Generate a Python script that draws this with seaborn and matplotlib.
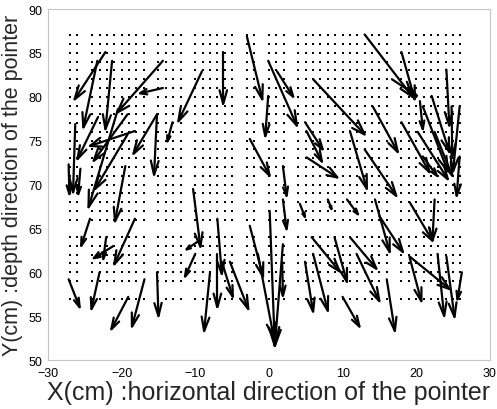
import numpy as np
import pandas as pd
import matplotlib
matplotlib.use("Agg")
import matplotlib.pyplot as plt
import seaborn as sns
from matplotlib.collections import LineCollection

# Measurement grid (cm); a few columns and rows were not sampled
grid_x = [c for c in range(-27, 27) if c not in (-25, -16, -11, -4, -1, 3, 17)]
grid_y = [r for r in range(57, 88) if r not in (58, 65)]

# Pointer displacement vectors: start point (cm) and components (cm)
vec_x = [-22.2, -23.3, -21.3, -14.4, -14.4, -9.1, -13.1, -15.2, -18.2, -15.2,
         -26.3, -27.2, -25.6, -23.2, -19.2, -20.5, -19.2, -19.5, -24.3, -18.2,
         -21.1, -22.1, -27.2, -23.0, -19.1, -16.9, -15.2,
         -6.2, -3.0, -10.3, -9.5, -10.0, -8.0, -7.0, -7.0, -6.4, -5.3, -2.6,
         0.1, 1.9, -1.5, 1.9, -2.6, 1.9, -0.1, -0.1, 1.1, 1.8, 4.2,
         6.0, 14.1, 13.0, 18.0, 16.7, 24.1, 18.0, 20.5, 22.1, 24.8, 25.9,
         4.9, 5.1, 5.1, 11.0, 13.0, 8.0, 10.6, 4.9, 6.0, 5.8, 8.9, 11.0, 11.9,
         10.0, 14.4, 15.0, 16.0, 19.1, 22.5, 19.1, 19.1, 22.9, 24.1, 26.2,
         20.9, 20.2, 22.5, 25.9, 20.9]
vec_y = [85.1, 84.1, 84.1, 84.1, 81.0, 82.9, 77.1, 78.0, 76.1, 78.0,
         76.9, 72.3, 71.8, 77.7, 78.0, 78.6, 75.7, 72.1, 66.1, 66.1,
         63.0, 64.0, 59.2, 60.0, 57.2, 59.2, 60.0,
         85.1, 86.9, 69.5, 63.6, 62.1, 60.0, 62.1, 66.1, 61.2, 61.2, 65.3,
         67.0, 63.2, 62.1, 68.3, 75.2, 72.1, 80.1, 84.1, 82.9, 61.2, 67.8,
         82.0, 78.9, 87.1, 85.1, 82.0, 83.1, 77.1, 79.5, 80.1, 78.9, 73.2,
         77.1, 76.1, 73.1, 76.1, 74.0, 68.3, 68.3, 61.2, 62.1, 64.0, 64.0, 64.0, 62.1,
         57.2, 68.3, 66.4, 59.2, 68.0, 68.3, 61.8, 61.7, 62.1, 61.8, 60.0,
         78.9, 76.0, 76.0, 78.9, 73.2]
vec_u = [-4.2, -1.9, -0.9, -6.2, -3.1, -3.2, -0.7, -0.4, -6.1, -3.2,
         -0.3, 0.1, -0.3, -2.8, -4.6, -4.0, -4.4, -1.4, -1.2, -2.8,
         -2.7, -0.4, 1.5, -1.1, -2.3, -1.7, 0.2,
         0.0, 2.1, 1.0, -1.7, -1.4, -0.8, 0.0, 0.6, 1.5, 2.5, 1.8,
         0.7, -1.1, 2.2, 0.5, 2.7, 0.5, -0.4, 3.9, 2.2, 0.1, 0.7,
         7.0, 3.4, 6.5, 1.8, 3.4, 0.4, 3.8, 0.4, 2.4, 0.1, -0.4,
         2.4, 2.1, 4.2, 2.3, 4.3, 0.5, 1.5, 1.1, 2.0, 3.8, 1.7, 3.6, 3.1,
         2.3, 2.0, 3.2, 1.1, 3.1, -0.3, 5.4, 1.6, 0.9, 1.1, -0.6,
         3.4, 4.1, 2.4, -0.9, 1.9]
vec_v = [-5.4, -7.6, -7.8, -5.9, -0.6, -5.7, -2.2, -6.9, -1.7, -4.5,
         -7.8, -3.4, -2.9, -4.8, -5.3, -11.2, -6.2, -6.3, -3.1, -5.2,
         -1.4, -2.5, -3.2, -4.2, -3.7, -5.4, -5.0,
         -5.9, -7.2, -6.6, -1.0, -2.6, -6.7, -6.1, -6.3, -4.0, -5.4, -5.8,
         -15.4, -11.6, -9.7, -3.4, -4.2, -3.4, -4.6, -7.4, -2.9, -3.9, -1.5,
         -6.3, -5.2, -7.1, -5.4, -1.9, -6.4, -5.7, -3.2, -6.4, -5.7, -4.5,
         -3.1, -3.5, -2.3, -6.6, -5.3, -1.1, -1.7, -5.7, -6.5, -3.9, -5.1, -3.6, -5.4,
         -3.4, -6.0, -4.1, -5.9, -4.4, -4.7, -3.7, -5.0, -7.1, -6.9, -3.1,
         -7.4, -5.4, -5.0, -7.4, -2.2]

x_ticks = [-30, -20, -10, 0, 10, 20, 30]
y_ticks = [50, 55, 60, 65, 70, 75, 80, 85, 90]

sns.set_theme(style="white")
plt.rcParams["font.family"] = ["Liberation Sans", "DejaVu Sans"]

fig = plt.figure(figsize=(4.97, 4.10), dpi=100)
ax = fig.add_axes([0.0966, 0.1195, 0.889, 0.856])

# sampling points
gx, gy = np.meshgrid(grid_x, grid_y)
dots = pd.DataFrame({"x": gx.ravel(), "y": gy.ravel()})
sns.scatterplot(data=dots, x="x", y="y", s=3, color="black", marker="s",
                linewidth=0, ax=ax, legend=False, zorder=1)

# quiver-style arrows with open V heads
x = np.asarray(vec_x, float)
y = np.asarray(vec_y, float)
u = np.asarray(vec_u, float)
v = np.asarray(vec_v, float)
length = np.hypot(u, v)
head = np.minimum(0.3 * length, 1.2 + 0.06 * length)
dx, dy = u / length, v / length
tx, ty = x + u, y + v
bx, by = tx - head * dx, ty - head * dy
half = 0.33 * head
segments = []
for i in range(len(x)):
    segments.append([(x[i], y[i]), (tx[i], ty[i])])
    segments.append([(bx[i] - half[i] * dy[i], by[i] + half[i] * dx[i]),
                     (tx[i], ty[i]),
                     (bx[i] + half[i] * dy[i], by[i] - half[i] * dx[i])])
ax.add_collection(LineCollection(segments, colors="black", linewidths=1.6,
                                 capstyle="round", joinstyle="miter", zorder=2))

ax.set_xlim(-30, 30)
ax.set_ylim(50, 90)
ax.set_xticks(x_ticks)
ax.set_yticks(y_ticks)
ax.tick_params(direction="in", length=3, width=0.6, color="#bdbdbd",
               labelsize=9, labelcolor="black")
ax.tick_params(axis="x", pad=5)
ax.tick_params(axis="y", pad=4)
for s in ax.spines.values():
    s.set_color("#c4c4c4")
    s.set_linewidth(0.8)
ax.set_xlabel("X(cm) :horizontal direction of the pointer", fontsize=18, labelpad=1)
ax.set_ylabel("Y(cm) :depth direction of the pointer", fontsize=15.5, labelpad=4)

fig.savefig("out.png", dpi=100)
